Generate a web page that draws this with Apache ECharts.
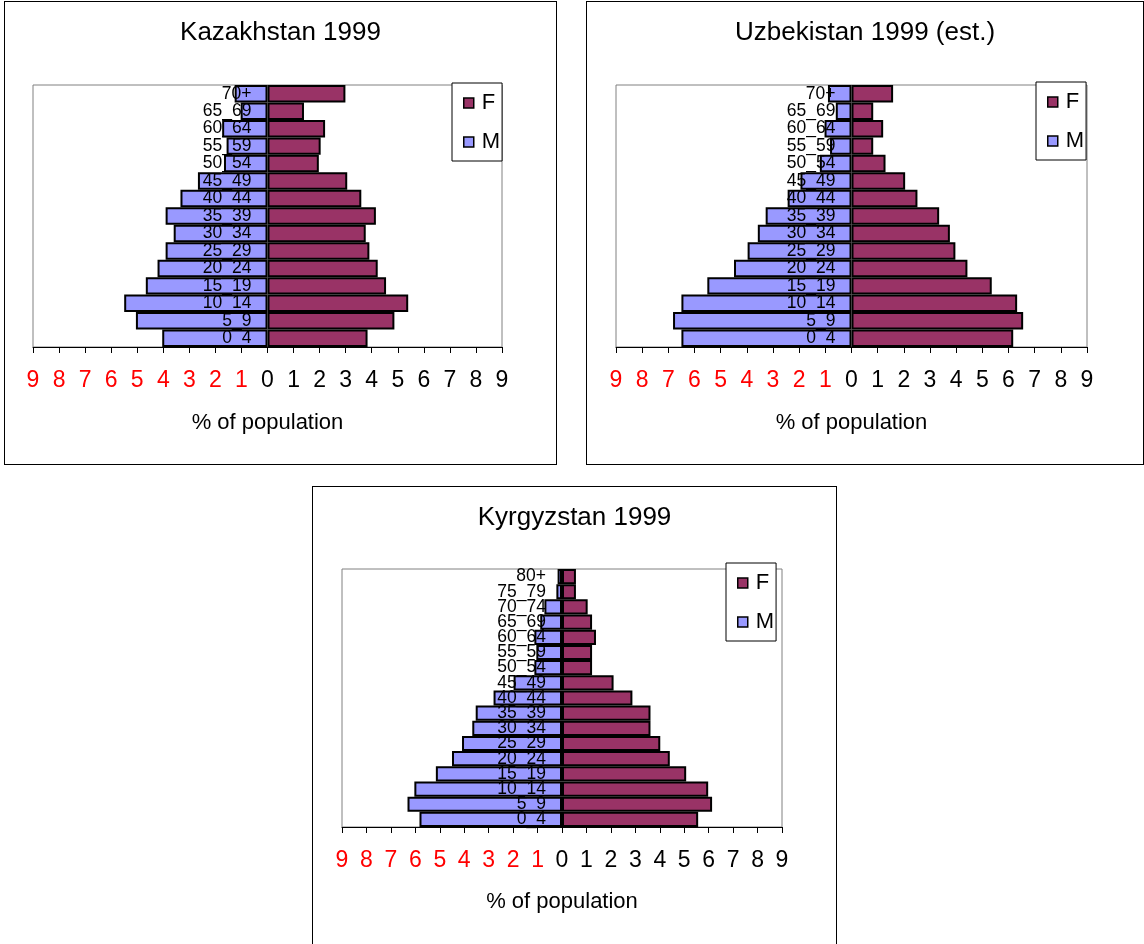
<!DOCTYPE html>
<html><head><meta charset="utf-8">
<script src="https://cdn.jsdelivr.net/npm/echarts@6/dist/echarts.min.js"></script>
<style>
html,body{margin:0;padding:0;background:#fff;width:1144px;height:944px;overflow:hidden;position:relative}
.panel{position:absolute;box-sizing:border-box;border:1px solid #000;background:#fff}
</style></head><body>
<div id="c1" class="panel" style="left:4px;top:1px;width:553px;height:464px"></div>
<div id="c2" class="panel" style="left:586px;top:1px;width:558px;height:464px"></div>
<div id="c3" class="panel" style="left:312px;top:486px;width:525px;height:470px"></div>
<script>
// ---- data ----
const ageGroups15 = ['0_4','5_9','10_14','15_19','20_24','25_29','30_34','35_39','40_44','45_49','50_54','55_59','60_64','65_69','70+'];
const ageGroups17 = ['0_4','5_9','10_14','15_19','20_24','25_29','30_34','35_39','40_44','45_49','50_54','55_59','60_64','65_69','70_74','75_79','80+'];

const kazakhTitle = 'Kazakhstan 1999';
const kazakhMale   = [4.04, 5.05, 5.50, 4.67, 4.22, 3.91, 3.60, 3.91, 3.34, 2.67, 1.67, 1.57, 1.74, 1.03, 1.26];
const kazakhFemale = [3.84, 4.87, 5.40, 4.55, 4.23, 3.91, 3.77, 4.16, 3.60, 3.06, 1.97, 2.04, 2.21, 1.40, 2.99];

const uzbekTitle = 'Uzbekistan 1999 (est.)';
const uzbekMale   = [6.50, 6.82, 6.50, 5.51, 4.49, 3.97, 3.58, 3.28, 2.44, 1.95, 1.21, 0.82, 1.03, 0.60, 0.90];
const uzbekFemale = [6.18, 6.56, 6.33, 5.36, 4.43, 3.97, 3.76, 3.35, 2.52, 2.05, 1.30, 0.83, 1.21, 0.83, 1.59];

const kyrgyzTitle = 'Kyrgyzstan 1999';
const kyrgyzMale   = [5.83, 6.32, 6.04, 5.16, 4.50, 4.09, 3.67, 3.53, 2.80, 1.98, 1.13, 1.05, 1.13, 0.89, 0.72, 0.23, 0.18];
const kyrgyzFemale = [5.57, 6.14, 5.98, 5.08, 4.41, 4.02, 3.62, 3.62, 2.88, 2.11, 1.23, 1.23, 1.39, 1.23, 1.05, 0.57, 0.57];

const seriesNames = ['M', 'F'];
const legendOrder = ['F', 'M'];
const axisMin = -9, axisMax = 9, axisStep = 1;
const axisTitle = '% of population';

// ---- styles ----
const SANS = "'Liberation Sans', Arial, sans-serif";
const COLOR_M = '#9999FF', COLOR_F = '#993366';

function build(id, title, cats, male, female, layout) {
  const chart = echarts.init(document.getElementById(id), null, {renderer: 'canvas'});
  const gridW = layout.grid[2];
  // category labels sit just left of the zero line (value axis is symmetric)
  const catMargin = -(gridW / 2 - 16);
  chart.setOption({
    animation: false,
    backgroundColor: '#fff',
    title: {
      text: title, left: 'center', top: layout.titleTop,
      textStyle: {fontSize: 26, fontWeight: 'normal', fontFamily: SANS, color: '#000'}
    },
    legend: {
      data: legendOrder, orient: 'vertical',
      left: layout.legend[0], top: layout.legend[1],
      padding: [9, 2, 8, 11], itemGap: 17, itemWidth: 10, itemHeight: 10,
      icon: 'rect', backgroundColor: '#fff', borderColor: '#000', borderWidth: 1,
      itemStyle: {borderColor: '#000', borderWidth: 1.5},
      textStyle: {fontSize: 22, fontFamily: SANS, color: '#000', padding: [0, 0, 0, 3]},
      z: 20
    },
    grid: {
      left: layout.grid[0], top: layout.grid[1], width: layout.grid[2], height: layout.grid[3],
      show: true, borderColor: '#808080', borderWidth: 1, containLabel: false,
      outerBoundsMode: 'none'
    },
    xAxis: {
      type: 'value', min: axisMin, max: axisMax, interval: axisStep,
      axisLine: {show: true, onZero: false, lineStyle: {color: '#000', width: 1}},
      axisTick: {show: true, length: 6, lineStyle: {color: '#000', width: 1}},
      splitLine: {show: false},
      axisLabel: {
        margin: 22, fontSize: 23, fontFamily: SANS,
        formatter: v => v < 0 ? '{r|' + Math.abs(v) + '}' : '{k|' + v + '}',
        rich: {
          r: {color: '#FF0000', fontSize: 23, fontFamily: SANS},
          k: {color: '#000000', fontSize: 23, fontFamily: SANS}
        }
      },
      name: axisTitle, nameLocation: 'middle', nameGap: layout.nameGap,
      nameTextStyle: {fontSize: 22, fontFamily: SANS, color: '#000'}
    },
    yAxis: {
      type: 'category', data: cats, z: 10,
      axisLine: {show: false, onZero: false},
      axisTick: {show: false},
      splitLine: {show: false},
      axisLabel: {interval: 0, margin: catMargin, fontSize: 17.5, fontFamily: SANS, color: '#000', align: 'right'}
    },
    series: [
      {
        name: seriesNames[0], type: 'bar', stack: 'pop', barCategoryGap: '0%',
        data: male.map(v => -v),
        itemStyle: {color: COLOR_M, borderColor: '#000', borderWidth: 2}
      },
      {
        name: seriesNames[1], type: 'bar', stack: 'pop', barCategoryGap: '0%',
        data: female,
        itemStyle: {color: COLOR_F, borderColor: '#000', borderWidth: 2}
      }
    ]
  });
}

build('c1', kazakhTitle, ageGroups15, kazakhMale, kazakhFemale,
  {titleTop: 13, grid: [28, 83, 469, 262], legend: [447, 81], nameGap: 65});
build('c2', uzbekTitle, ageGroups15, uzbekMale, uzbekFemale,
  {titleTop: 13, grid: [29, 83, 471, 262], legend: [449, 80], nameGap: 65});
build('c3', kyrgyzTitle, ageGroups17, kyrgyzMale, kyrgyzFemale,
  {titleTop: 13, grid: [29, 82, 440, 258], legend: [413, 76], nameGap: 64});
</script>
</body></html>
